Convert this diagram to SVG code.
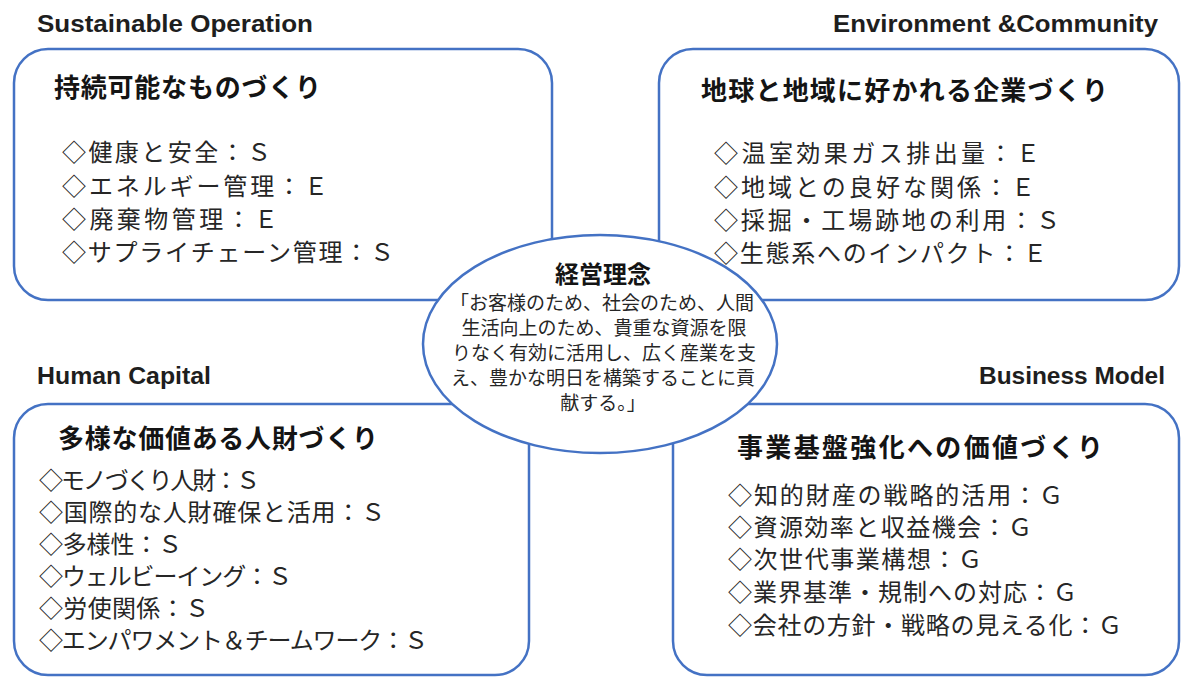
<svg xmlns="http://www.w3.org/2000/svg" width="1181" height="677" viewBox="0 0 1181 677">
<style>
.box{fill:#ffffff;stroke:#4472c4;stroke-width:2.5}
.ttl{font-family:'Liberation Sans',Arial,sans-serif;font-weight:700;font-size:23px;fill:#1e1e1e}
.hd{font-family:'Noto Sans CJK JP','Noto Sans CJK SC',sans-serif;font-weight:700;font-size:26px;fill:#141414}
.it{font-family:'Noto Sans CJK JP','Noto Sans CJK SC',sans-serif;font-weight:400;font-size:24px;fill:#262626}
.eh{font-family:'Noto Sans CJK JP','Noto Sans CJK SC',sans-serif;font-weight:700;font-size:24px;fill:#141414;text-anchor:middle}
.eb{font-family:'Noto Sans CJK JP','Noto Sans CJK SC',sans-serif;font-weight:400;font-size:19px;fill:#262626;text-anchor:middle}
</style>
<rect width="1181" height="677" fill="#ffffff"/>
<g id="connectors"></g>
<g id="sustainable-operation">
<text class="ttl" x="37" y="32" textLength="276" lengthAdjust="spacingAndGlyphs">Sustainable Operation</text>
<rect class="box" x="14" y="49" width="538" height="251" rx="34" ry="34"/>
<text class="hd" x="54" y="97" textLength="267">持続可能なものづくり</text>
<text class="it" x="62" y="161" textLength="209">◇健康と安全：Ｓ</text>
<text class="it" x="62" y="195" textLength="266">◇エネルギー管理：Ｅ</text>
<text class="it" x="62" y="228" textLength="216">◇廃棄物管理：Ｅ</text>
<text class="it" x="62" y="261" textLength="332">◇サプライチェーン管理：Ｓ</text>
</g>
<g id="environment-community">
<text class="ttl" x="833" y="32" textLength="325" lengthAdjust="spacingAndGlyphs">Environment &amp;Community</text>
<rect class="box" x="659" y="49" width="520" height="251" rx="34" ry="34"/>
<text class="hd" x="701" y="100" textLength="407">地球と地域に好かれる企業づくり</text>
<text class="it" x="714" y="162" textLength="326">◇温室効果ガス排出量：Ｅ</text>
<text class="it" x="714" y="196" textLength="321">◇地域との良好な関係：Ｅ</text>
<text class="it" x="714" y="229" textLength="346">◇採掘・工場跡地の利用：Ｓ</text>
<text class="it" x="714" y="262" textLength="333">◇生態系へのインパクト：Ｅ</text>
</g>
<g id="human-capital">
<text class="ttl" x="37" y="384" textLength="174" lengthAdjust="spacingAndGlyphs">Human Capital</text>
<rect class="box" x="14" y="404" width="515" height="271" rx="34" ry="34"/>
<text class="hd" x="58" y="448" textLength="320">多様な価値ある人財づくり</text>
<text class="it" x="39" y="489" textLength="221">◇モノづくり人財：Ｓ</text>
<text class="it" x="39" y="521" textLength="346">◇国際的な人財確保と活用：Ｓ</text>
<text class="it" x="39" y="553" textLength="143">◇多様性：Ｓ</text>
<text class="it" x="39" y="585" textLength="253">◇ウェルビーイング：Ｓ</text>
<text class="it" x="39" y="617" textLength="170">◇労使関係：Ｓ</text>
<text class="it" x="39" y="649" textLength="389">◇エンパワメント＆チームワーク：Ｓ</text>
</g>
<g id="business-model">
<text class="ttl" x="979" y="384" textLength="186" lengthAdjust="spacingAndGlyphs">Business Model</text>
<rect class="box" x="673" y="404" width="506" height="271" rx="34" ry="34"/>
<text class="hd" x="737" y="457" textLength="366">事業基盤強化への価値づくり</text>
<text class="it" x="728" y="504" textLength="335">◇知的財産の戦略的活用：Ｇ</text>
<text class="it" x="728" y="536" textLength="304">◇資源効率と収益機会：Ｇ</text>
<text class="it" x="728" y="568" textLength="254">◇次世代事業構想：Ｇ</text>
<text class="it" x="728" y="601" textLength="349">◇業界基準・規制への対応：Ｇ</text>
<text class="it" x="728" y="634" textLength="394">◇会社の方針・戦略の見える化：Ｇ</text>
</g>
<g id="management-philosophy">
<ellipse class="box" cx="600" cy="344" rx="177" ry="109"/>
<text class="eh" x="603" y="283">経営理念</text>
<text class="eb" x="602" y="310">「お客様のため、社会のため、人間</text>
<text class="eb" x="604" y="335">生活向上のため、貴重な資源を限</text>
<text class="eb" x="604" y="360">りなく有効に活用し、広く産業を支</text>
<text class="eb" x="603" y="385">え、豊かな明日を構築することに貢</text>
<text class="eb" x="603" y="410">献する。」</text>
</g>
</svg>
